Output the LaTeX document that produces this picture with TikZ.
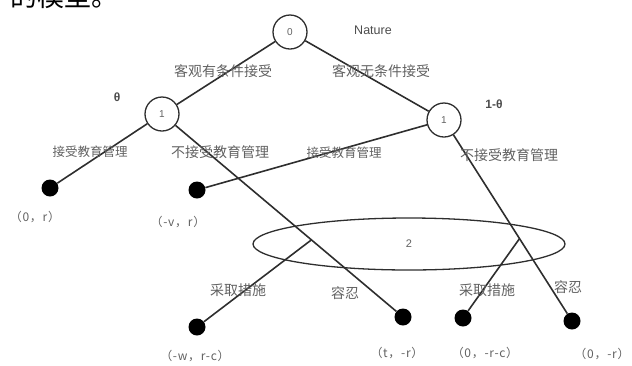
\documentclass[tikz,border=0pt]{standalone}
\usepackage{fontspec}
\setmainfont{Liberation Sans}
\newfontfamily\cjk{Noto Sans CJK SC}
\newfontfamily\cjkw{Noto Sans CJK SC}[LetterSpace=6]
\usetikzlibrary{shapes.geometric,calc}
\definecolor{linec}{gray}{0.18}
\definecolor{txt}{gray}{0.38}
\begin{document}
\begin{tikzpicture}[x=1pt,y=-1pt,
  dec/.style={circle,draw=linec,line width=1.3pt,minimum size=34pt,inner sep=0pt,font=\fontsize{10}{10}\selectfont,text=txt},
  leaf/.style={circle,fill=black,minimum size=17pt,inner sep=0pt},
  edge/.style={draw=linec,line width=1.6pt},
  lab/.style={font=\cjk\fontsize{14}{14}\selectfont,text=txt,inner sep=0pt},
  labs/.style={font=\cjk\fontsize{12.5}{12.5}\selectfont,text=txt,inner sep=0pt},
  pay/.style={font=\cjkw\fontsize{12}{12}\selectfont,text=txt,inner sep=0pt},
  lat/.style={font=\fontsize{12.5}{12.5}\selectfont,text=black!70,inner sep=0pt}]
\useasboundingbox (0,0) rectangle (632,365);
% cropped page text
\node[anchor=base west,font=\cjk\fontsize{27}{27}\selectfont,inner sep=0pt] (top) at (10,6) {的模型。};
% decision nodes
\node[dec] (n0) at (290,32) {0};
\node[dec] (n1L) at (162,114) {1};
\node[dec] (n1R) at (444,120) {1};
% information set
\node[ellipse,draw=linec,line width=1.3pt,minimum width=312pt,minimum height=52pt,inner sep=0pt,font=\fontsize{11}{11}\selectfont,text=txt] (info) at (409,244) {2};
% leaves
\node[leaf] (L1) at (50,188) {};
\node[leaf] (L2) at (197,190) {};
\node[leaf] (L3) at (197,327) {};
\node[leaf] (L4) at (403,317) {};
\node[leaf] (L5) at (463,318) {};
\node[leaf] (L6) at (572,321) {};
% player 2 decision points
\coordinate (pa) at ($(n1L)!0.62!(L4)$);
\coordinate (pb) at ($(n1R)!0.59!(L6)$);
% edges
\draw[edge] (n0) -- (n1L);
\draw[edge] (n0) -- (n1R);
\draw[edge] (n1L) -- (L1);
\draw[edge] (n1L) -- (L4);
\draw[edge] (n1R) -- (L2);
\draw[edge] (n1R) -- (L6);
\draw[edge] (pa) -- (L3);
\draw[edge] (pb) -- (L5);
% labels
\node[lat] (nat) at (373,30) {Nature};
\node[lat,font=\bfseries\fontsize{12}{12}\selectfont] (th) at (117,97) {θ};
\node[lat,font=\bfseries\fontsize{12}{12}\selectfont] (th2) at (494,104) {1-θ};
\node[lab] (e1) at (223,71) {客观有条件接受};
\node[lab] (e2) at (381,71) {客观无条件接受};
\node[labs] (e3) at (90,152) {接受教育管理};
\node[lab] (e4) at (220,152) {不接受教育管理};
\node[labs] (e5) at (344,153) {接受教育管理};
\node[lab] (e6) at (509,155) {不接受教育管理};
\node[lab] (e7) at (238,290) {采取措施};
\node[lab] (e8) at (345,293) {容忍};
\node[lab] (e9) at (487,290) {采取措施};
\node[lab] (e10) at (568,287) {容忍};
% payoffs
\node[pay] (p1) at (35,217) {（0，r）};
\node[pay] (p2) at (178,222) {（-v，r）};
\node[pay] (p3) at (195,356) {（-w，r-c）};
\node[pay] (p4) at (397,353) {（t，-r）};
\node[pay] (p5) at (485,353) {（0，-r-c）};
\node[pay] (p6) at (602,354) {（0，-r）};
\end{tikzpicture}
\end{document}
